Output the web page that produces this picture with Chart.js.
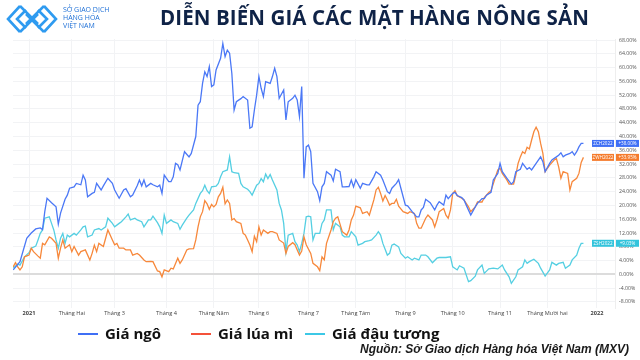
<!DOCTYPE html>
<html><head><meta charset="utf-8">
<script src="https://cdn.jsdelivr.net/npm/chart.js@4.4.1/dist/chart.umd.min.js"></script>
<style>
html,body{margin:0;padding:0;background:#fff;width:640px;height:360px;overflow:hidden;font-family:"Open Sans",sans-serif;}
#wrap{position:relative;width:640px;height:360px;}
#c{position:absolute;left:0;top:0;}
.title{position:absolute;left:160px;top:3px;font:700 20.5px "Open Sans",sans-serif;color:#0f2347;white-space:nowrap;letter-spacing:0.1px;}
.logoTxt{position:absolute;left:63px;top:6px;font:500 7px/8px "Open Sans",sans-serif;color:#1d6fd6;white-space:nowrap;}
.leg{position:absolute;top:323px;font:700 15px "Open Sans",sans-serif;color:#111;white-space:nowrap;}
.legLine{position:absolute;top:333px;height:2px;width:20px;}
.src{position:absolute;right:11px;top:342px;font:italic 700 12px "Liberation Sans",Arial,sans-serif;color:#1a1a1a;white-space:nowrap;}
</style></head>
<body><div id="wrap">
<canvas id="c" width="640" height="360"></canvas>
<svg style="position:absolute;left:6px;top:4px" width="56" height="30" viewBox="0 0 56 30">
 <g fill="none" stroke="#2f9bf0" stroke-width="2.6" stroke-linejoin="miter">
  <polyline points="14,2 2,15 14,28"/>
  <polyline points="20,6 11,15 20,24"/>
  <polyline points="14,2 26,14 38,2"/>
  <polyline points="14,28 26,16 38,28"/>
  <polyline points="38,2 50,15 38,28"/>
  <polyline points="32,6 41,15 32,24"/>
  <polyline points="20,10 25,15 20,20"/>
  <polyline points="32,10 27,15 32,20"/>
 </g>
</svg>
<div class="logoTxt">SỞ GIAO DỊCH<br>HÀNG HÓA<br>VIỆT NAM</div>
<div class="title">DIỄN BIẾN GIÁ CÁC MẶT HÀNG NÔNG SẢN</div>
<div class="legLine" style="left:78px;background:#3f6ff5"></div><div class="leg" style="left:105px">Giá ngô</div>
<div class="legLine" style="left:191px;background:#f4523a"></div><div class="leg" style="left:218px">Giá lúa mì</div>
<div class="legLine" style="left:305px;background:#3cc8e6"></div><div class="leg" style="left:332px">Giá đậu tương</div>
<div class="src">Nguồn: Sở Giao dịch Hàng hóa Việt Nam (MXV)</div>
</div>
<script>
// trading-session index (0 = first session of 2021) and % change
const monthSessions = [0,19,38,61,82,102,124,145,167,188,209,230,252];
const monthLabels = ["2021","Tháng Hai","Tháng 3","Tháng 4","Tháng Năm","Tháng 6","Tháng 7","Tháng Tám","Tháng 9","Tháng 10","Tháng 11","Tháng Mười hai","2022"];
const yTicks = [-8,-4,0,4,8,12,16,20,24,28,32,36,40,44,48,52,56,60,64,68];

const cornSessions = [-7,-4,-1,1,3,5,6,7,8,10,12,13,14,16,17,18,20,21,23,24,25,26,28,29,30,32,33,35,37,38,40,42,43,45,46,48,49,50,51,52,54,55,57,58,59,60,62,63,64,65,66,67,69,71,72,74,75,76,77,78,79,80,81,82,83,85,86,87,88,89,90,91,92,94,95,97,98,99,100,101,102,103,104,105,107,108,109,110,111,113,114,115,117,118,119,120,121,122,123,124,125,126,128,129,130,131,132,134,135,136,138,139,140,142,143,144,145,147,148,150,151,153,154,156,157,159,160,161,163,164,165,167,168,170,172,173,174,175,176,178,180,181,182,184,185,186,188,189,190,192,193,194,196,198,199,201,202,203,205,206,208,209,210,212,214,215,216,218,219,221,222,223,225,227,228,229,231,232,234,235,236,237,238,240,241,242,243,244,245,246];
const cornValues = [1.3,3.7,10.5,12.0,13.2,13.5,13.0,18.2,22.1,20.8,19.6,14.6,17.8,21.8,23.0,25.0,25.4,26.4,26.0,28.8,27.4,22.5,23.5,23.8,26.4,24.5,25.7,27.9,26.4,24.5,22.1,24.5,24.9,22.5,23.0,25.7,27.4,25.7,27.4,25.4,26.4,26.0,25.4,25.9,23.5,28.8,26.9,26.9,28.3,32.2,31.8,30.3,35.6,34.1,35.1,40.0,49.1,50.1,55.4,58.8,57.4,60.3,54.5,55.0,59.3,62.7,67.0,63.2,65.1,64.2,58.3,47.7,50.1,51.0,51.6,50.6,42.4,42.8,47.7,52.0,57.4,54.0,51.6,55.9,55.4,57.4,59.8,57.4,51.1,53.5,44.8,50.1,51.1,52.0,50.6,45.8,54.5,27.9,37.0,37.5,35.6,26.4,24.0,21.4,25.4,26.4,29.8,28.8,27.1,30.5,29.8,25.4,25.4,25.5,27.4,25.4,27.5,25.0,26.4,26.0,26.0,28.3,29.8,28.8,27.4,24.0,23.5,25.0,26.4,27.5,25.0,20.1,19.9,18.2,16.7,16.7,18.7,19.4,21.8,20.8,18.7,20.1,21.1,20.1,23.0,22.0,23.5,23.8,22.9,22.3,21.6,20.1,17.2,19.6,20.6,22.0,22.0,23.0,23.8,27.4,29.3,32.2,29.8,27.9,26.2,26.9,29.8,30.5,32.2,30.5,31.0,30.3,32.2,34.1,32.7,29.8,32.2,33.2,34.1,34.6,35.3,34.1,34.6,35.1,35.6,34.6,35.6,37.0,38.0,38.0];

const wheatSessions = [-7,-6,-5,-4,-3,-2,0,1,2,4,5,6,7,9,10,12,13,14,15,16,18,19,20,22,23,25,27,28,29,30,31,33,34,35,37,38,39,40,42,43,45,46,48,49,51,52,54,55,57,58,59,60,62,63,64,66,67,68,70,71,73,74,75,76,77,78,79,80,81,82,83,84,85,86,87,88,89,90,91,92,94,95,96,97,98,99,100,101,102,103,104,106,107,108,110,111,113,114,115,117,118,120,121,122,123,125,126,128,129,130,131,132,134,135,136,137,138,139,141,142,143,144,145,147,148,150,151,152,153,154,155,156,157,158,159,160,161,162,163,164,166,168,169,171,172,173,174,176,177,179,180,181,182,184,185,186,187,188,189,190,192,193,195,196,198,199,201,202,204,205,207,208,209,210,212,213,215,216,217,218,219,220,221,222,223,224,225,226,227,228,229,230,231,233,234,235,236,237,239,240,241,243,244,245,246];
const wheatValues = [2.2,3.4,2.2,1.3,2.2,5.1,5.6,7.6,6.6,5.3,4.7,9.0,8.6,10.9,10.5,9.0,4.7,7.6,10.0,7.6,8.6,6.6,8.1,5.6,6.6,7.1,4.2,6.1,8.5,6.6,9.0,8.1,10.5,12.9,10.0,8.6,9.0,7.6,7.6,7.1,7.1,5.6,6.1,5.6,4.2,3.7,3.8,3.7,1.0,0.8,-0.7,1.3,0.8,1.8,1.6,4.7,3.2,4.2,7.1,7.4,7.5,10.0,13.8,16.7,18.2,21.4,20.5,18.9,20.3,19.6,20.3,22.5,23.5,25.3,20.5,21.6,20.6,15.8,16.2,15.3,14.8,11.9,11.4,10.0,8.5,6.6,11.1,9.5,13.8,11.4,12.9,11.9,12.4,12.4,11.9,10.0,9.1,6.1,8.1,9.2,8.6,5.6,6.8,10.9,8.6,6.1,3.2,2.2,1.1,5.1,4.2,9.0,12.9,15.3,16.3,16.7,14.6,12.4,11.4,12.9,15.8,17.2,19.8,19.3,17.7,18.2,17.2,19.4,21.6,24.5,25.3,23.5,21.3,22.9,21.6,20.1,20.6,20.6,21.8,19.8,18.2,17.7,18.2,17.7,14.8,13.4,13.4,16.3,17.2,15.8,13.8,15.8,18.2,19.1,17.2,16.3,18.7,23.5,24.3,22.8,22.1,21.6,19.6,18.2,19.6,21.0,21.0,22.3,23.8,24.3,28.3,30.3,30.8,29.3,27.4,26.2,26.2,28.8,32.2,34.1,35.6,35.1,36.9,36.4,39.0,41.4,42.7,41.4,38.0,35.1,29.8,30.8,31.7,33.2,33.6,31.2,27.9,29.8,29.3,24.5,26.9,27.9,29.3,32.5,33.95];

const soySessions = [-7,-5,-4,-2,0,1,3,4,5,6,7,9,10,11,12,13,14,15,16,17,18,20,21,23,24,25,26,28,29,31,32,34,35,37,38,40,41,43,44,45,47,48,50,51,53,54,55,57,58,59,60,61,63,64,66,67,68,70,71,73,74,76,77,78,79,80,81,83,84,85,86,88,89,90,91,93,94,95,97,98,99,101,102,103,104,105,106,107,108,110,111,112,113,114,115,117,118,119,120,121,122,123,124,125,126,127,129,130,131,132,134,135,136,138,139,140,142,143,145,146,148,149,151,152,154,155,156,157,159,160,161,162,164,165,167,168,170,171,173,174,176,177,179,181,182,185,187,188,190,191,193,195,196,198,199,201,202,204,206,208,210,211,213,214,216,217,219,220,221,222,224,226,227,229,231,232,234,235,237,238,240,241,243,244,245,246];
const soyValues = [1.8,3.0,2.7,5.1,6.3,7.6,8.2,10.0,11.9,12.9,16.3,16.7,14.8,12.9,10.0,7.6,10.5,11.9,9.0,11.4,10.9,11.9,11.4,12.9,13.8,14.0,10.9,11.4,12.9,13.3,12.9,13.8,16.3,14.8,13.8,14.8,15.3,16.7,17.5,15.8,16.3,15.8,15.3,13.8,15.8,15.8,16.9,15.0,13.8,11.9,17.2,14.8,15.8,15.3,14.8,13.1,14.3,16.3,17.2,18.7,20.6,23.5,24.3,25.9,24.3,23.5,25.4,25.6,26.4,28.3,29.8,30.3,34.1,29.8,29.5,29.3,26.4,25.4,24.7,24.0,23.0,25.9,26.4,27.8,26.9,29.1,27.8,29.0,27.4,24.5,20.6,18.7,14.8,6.6,11.4,11.9,9.5,8.5,6.6,9.0,11.9,16.7,16.9,16.7,10.0,11.9,11.9,14.8,15.8,18.7,18.7,12.9,14.8,13.8,11.4,10.9,10.9,12.4,10.9,8.5,9.0,9.5,9.8,10.0,11.4,12.4,11.4,9.0,5.6,6.1,8.5,8.8,8.0,6.1,4.7,5.1,4.2,4.7,4.2,5.6,5.6,5.1,3.4,4.7,4.9,4.9,5.1,2.2,1.3,2.5,1.8,-2.1,-1.8,-0.5,1.3,2.7,0.3,1.6,1.8,1.6,2.7,1.3,-0.7,-2.6,-0.7,1.3,2.2,4.2,3.2,3.7,4.4,3.2,1.8,-0.5,1.3,3.5,2.7,3.2,3.5,1.8,2.7,4.2,5.6,7.6,9.0,9.03];

const seriesNames = ["ZCH2022","ZWH2022","ZSH2022"];
const seriesColors = ["#4b78f6","#f7883b","#55cfe2"];
const tagColors = ["#3f6ff5","#f57b2c","#33c4dc"];

function pts(xs, ys){ return xs.map((x,i)=>({x:x, y:ys[i]})); }

const tagPlugin = {
  id:'tags',
  afterDraw(chart){
    const ctx = chart.ctx, ys = chart.scales.y;
    chart.data.datasets.forEach((ds,i)=>{
      const last = ds.data[ds.data.length-1].y;
      const py = ys.getPixelForValue(last);
      ctx.save();
      ctx.fillStyle = tagColors[i];
      ctx.fillRect(592, py-3.5, 22, 7);
      ctx.fillRect(616, py-3.5, 23, 7);
      ctx.fillStyle = '#fff';
      ctx.font = '4.6px "Open Sans", sans-serif';
      ctx.textBaseline = 'middle';
      ctx.textAlign = 'center';
      ctx.fillText(seriesNames[i], 603, py+0.3);
      ctx.fillText('+' + last.toFixed(2) + '%', 627.5, py+0.3);
      ctx.restore();
    });
  }
};

new Chart(document.getElementById('c'), {
  type:'line',
  data:{ datasets:[
    {label:'Giá ngô', data:pts(cornSessions,cornValues), borderColor:seriesColors[0]},
    {label:'Giá lúa mì', data:pts(wheatSessions,wheatValues), borderColor:seriesColors[1]},
    {label:'Giá đậu tương', data:pts(soySessions,soyValues), borderColor:seriesColors[2]}
  ]},
  options:{
    responsive:false, animation:false, parsing:true,
    elements:{ line:{borderWidth:1.3, tension:0}, point:{radius:0} },
    layout:{ padding:{left:13, top:39, right:0, bottom:40} },
    plugins:{ legend:{display:false}, tooltip:{enabled:false} },
    scales:{
      x:{ type:'linear', min:-7.1, max:260,
        afterBuildTicks(s){ s.ticks = monthSessions.map(v=>({value:v})); },
        afterFit(s){ s.height = 12; },
        ticks:{ autoSkip:false, maxRotation:0, padding:2, color:'#444',
          font:(c)=>({size:5.6, family:'"Open Sans", sans-serif', weight:(c.tick && (c.tick.value===0||c.tick.value===252))?'bold':'normal'}),
          callback:(v)=>{ const k = monthSessions.indexOf(v); return k>=0 ? monthLabels[k] : ''; } },
        grid:{ color:'#f2f3f5', drawTicks:false, lineWidth:1 },
        border:{ display:false }
      },
      y:{ type:'linear', position:'right', min:-9.75, max:68.3,
        afterBuildTicks(s){ s.ticks = yTicks.map(v=>({value:v})); },
        afterFit(s){ s.width = 25; },
        ticks:{ padding:4, color:'#555', font:{size:5.2, family:'"Open Sans", sans-serif'},
          callback:(v)=> v.toFixed(2) + '%' },
        grid:{ drawTicks:false, color:(c)=> c.tick && c.tick.value===0 ? '#dcdcdc' : '#f2f3f5', lineWidth:(c)=> c.tick && c.tick.value===0 ? 2 : 1 },
        border:{ display:true, color:'#eeeeee' }
      }
    }
  },
  plugins:[tagPlugin]
});
</script>
</body></html>
